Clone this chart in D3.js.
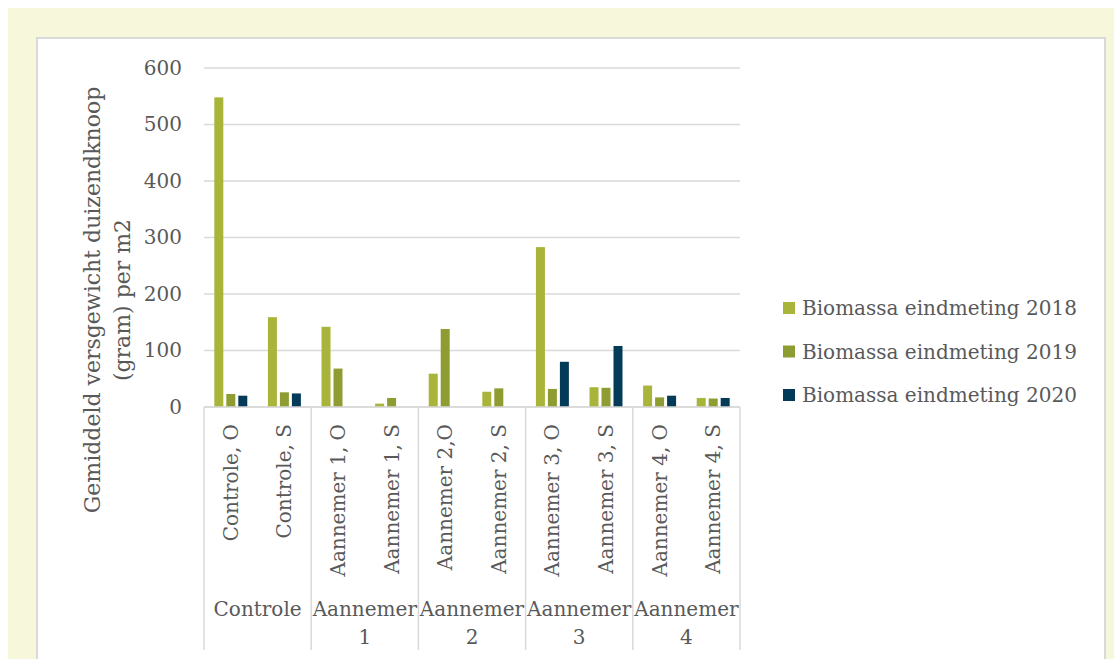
<!DOCTYPE html>
<html>
<head>
<meta charset="utf-8">
<script src="https://cdn.jsdelivr.net/npm/d3@7"></script>
<style>
  body { margin: 0; background: #fff; }
  svg { display: block; }
  text { font-family: "DejaVu Serif", serif; fill: #595959; }
</style>
</head>
<body>
<div id="chart"></div>
<script>
// chart data
const categories = ["Controle, O", "Controle, S", "Aannemer 1, O", "Aannemer 1, S", "Aannemer 2,O",
                    "Aannemer 2, S", "Aannemer 3, O", "Aannemer 3, S", "Aannemer 4, O", "Aannemer 4, S"];
const groups = [["Controle"], ["Aannemer", "1"], ["Aannemer", "2"], ["Aannemer", "3"], ["Aannemer", "4"]];
const seriesNames = ["Biomassa eindmeting 2018", "Biomassa eindmeting 2019", "Biomassa eindmeting 2020"];
const values2018 = [548, 159, 142, 6, 59, 27, 283, 35, 38, 16];
const values2019 = [23, 26, 68, 16, 138, 33, 32, 34, 17, 15];
const values2020 = [20, 24, null, null, null, null, 80, 108, 20, 16];
const yTicks = [0, 100, 200, 300, 400, 500, 600];
const colors = ["#a9b43b", "#8f9c31", "#033a58"];

const W = 1114, H = 659;
const svg = d3.select("#chart").append("svg")
    .attr("width", W)
    .attr("height", H);

// page background + chart panel
svg.append("rect").attr("width", W).attr("height", H).attr("fill", "#fff");
svg.append("rect").attr("x", 8).attr("y", 8).attr("width", W - 8).attr("height", H - 8).attr("fill", "#f7f7dc");
svg.append("rect").attr("x", 37).attr("y", 38).attr("width", 1068).attr("height", H)
    .attr("fill", "#fff").attr("stroke", "#d9d9d9").attr("stroke-width", 2);

const plotLeft = 204, plotRight = 740, plotTop = 68, base = 407;

const x = d3.scaleBand().domain(categories).range([plotLeft, plotRight]);
const xs = d3.scaleBand().domain(seriesNames).range([0, x.bandwidth()])
    .paddingInner(0.25).paddingOuter(0.86);
const y = d3.scaleLinear().domain([0, 600]).range([base, plotTop]);

// gridlines
svg.append("g").selectAll("line")
  .data(yTicks)
  .enter().append("line")
    .attr("x1", plotLeft).attr("x2", plotRight)
    .attr("y1", d => y(d)).attr("y2", d => y(d))
    .attr("stroke", "#d9d9d9").attr("stroke-width", 1.5);

// y axis labels
const yAxis = d3.axisLeft(y).tickValues(yTicks).tickSize(0).tickPadding(22);
const gy = svg.append("g").attr("transform", "translate(" + plotLeft + ",0)").call(yAxis);
gy.select(".domain").remove();
gy.selectAll("text").style("font-size", "20px").attr("fill", "#595959")
    .style("font-family", "DejaVu Serif, serif");

// bars
const series = [values2018, values2019, values2020];
series.forEach((vals, si) => {
  svg.append("g").selectAll("rect")
    .data(vals.map((v, i) => ({cat: categories[i], v: v})).filter(d => d.v != null))
    .enter().append("rect")
      .attr("x", d => x(d.cat) + xs(seriesNames[si]))
      .attr("y", d => y(d.v))
      .attr("width", xs.bandwidth())
      .attr("height", d => base - y(d.v))
      .attr("fill", colors[si]);
});

// category axis: baseline and group dividers
const bottom = 650;
svg.append("line").attr("x1", plotLeft).attr("x2", plotRight).attr("y1", base).attr("y2", base)
    .attr("stroke", "#d9d9d9").attr("stroke-width", 1.5);
const groupEdges = d3.range(groups.length + 1).map(i => i === groups.length ? plotRight : x(categories[i * 2]));
svg.append("g").selectAll("line")
  .data(groupEdges)
  .enter().append("line")
    .attr("x1", d => d).attr("x2", d => d)
    .attr("y1", base).attr("y2", bottom)
    .attr("stroke", "#d9d9d9").attr("stroke-width", 1.5);

// inner category labels (rotated)
svg.append("g").selectAll("text")
  .data(categories)
  .enter().append("text")
    .attr("transform", d => "translate(" + (x(d) + x.bandwidth() / 2 + 7) + ",424) rotate(-90)")
    .attr("text-anchor", "end")
    .style("font-size", "20px")
    .text(d => d);

// outer group labels
groups.forEach((g, i) => {
  const cx = (groupEdges[i] + groupEdges[i + 1]) / 2;
  g.forEach((line, j) => {
    svg.append("text")
      .attr("x", cx).attr("y", 616 + j * 28)
      .attr("text-anchor", "middle")
      .style("font-size", "20px")
      .text(line);
  });
});

// y axis title
const title = svg.append("text")
    .attr("transform", "translate(107,300) rotate(-90)")
    .attr("text-anchor", "middle")
    .style("font-size", "22px");
title.append("tspan").attr("x", 0).attr("dy", "-0.3em").text("Gemiddeld versgewicht duizendknoop");
title.append("tspan").attr("x", 0).attr("dy", "1.36em").text("(gram) per m2");

// legend
const legend = svg.append("g").selectAll("g")
  .data(seriesNames)
  .enter().append("g")
    .attr("transform", (d, i) => "translate(783," + (308 + i * 43.5) + ")");
legend.append("rect")
    .attr("x", 0).attr("y", -6).attr("width", 12).attr("height", 12)
    .attr("fill", (d, i) => colors[i]);
legend.append("text")
    .attr("x", 19).attr("y", 7)
    .style("font-size", "20px")
    .text(d => d);
</script>
</body>
</html>
